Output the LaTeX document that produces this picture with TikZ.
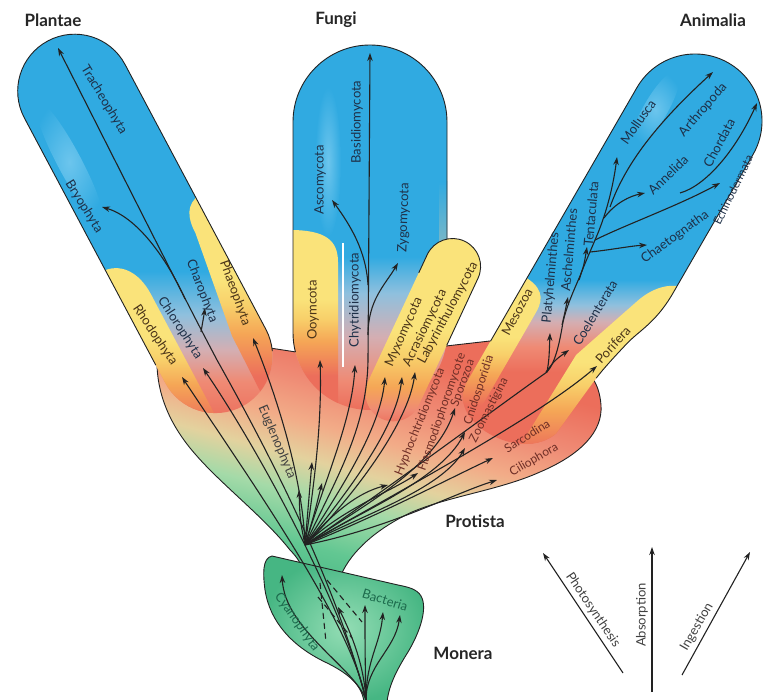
\documentclass[tikz,border=0pt]{standalone}
\usepackage{fontspec}
\setmainfont{Lato}
\usetikzlibrary{arrows.meta}

\definecolor{skyb}{HTML}{30AAE1}
\definecolor{skyl}{HTML}{6CC5ED}
\definecolor{rosy}{HTML}{EC6E5B}
\definecolor{salmon}{HTML}{EF8A74}
\definecolor{pinkgray}{HTML}{D4AEB2}
\definecolor{greyblue}{HTML}{8FC0DE}
\definecolor{sun}{HTML}{FAE37A}
\definecolor{sunlow}{HTML}{F8D06A}
\definecolor{amber}{HTML}{F5A656}
\definecolor{peach}{HTML}{F2AC88}
\definecolor{straw}{HTML}{E3D29E}
\definecolor{mint}{HTML}{A4DAA8}
\definecolor{leaf}{HTML}{62C792}
\definecolor{leafdark}{HTML}{46B683}
\definecolor{leaflight}{HTML}{93DDB4}
\definecolor{beige1}{HTML}{D8C8A6}
\definecolor{ink}{HTML}{222222}
\definecolor{navytxt}{HTML}{1E3048}
\definecolor{browntxt}{HTML}{4A3418}
\definecolor{redtxt}{HTML}{6E2E26}
\definecolor{greentxt}{HTML}{1C6A4C}

% shadings along the lobes (25bp = foot, 75bp = tip)
\pgfdeclareverticalshading{plantshade}{100bp}{color(0bp)=(rosy); color(25bp)=(rosy); color(30bp)=(salmon); color(34bp)=(pinkgray); color(38.5bp)=(greyblue); color(44bp)=(skyb); color(100bp)=(skyb)}
\pgfdeclareverticalshading{fungishade}{100bp}{color(0bp)=(rosy); color(25bp)=(rosy); color(29bp)=(salmon); color(35bp)=(pinkgray); color(41bp)=(greyblue); color(46bp)=(skyb); color(100bp)=(skyb)}
\pgfdeclareverticalshading{lobeshade}{100bp}{color(0bp)=(rosy); color(25bp)=(rosy); color(29bp)=(salmon); color(35bp)=(amber); color(43bp)=(sunlow); color(50bp)=(sun); color(100bp)=(sun)}
\pgfdeclareverticalshading{animshade}{100bp}{color(0bp)=(rosy); color(36bp)=(rosy); color(39bp)=(salmon); color(42bp)=(pinkgray); color(44bp)=(greyblue); color(47bp)=(skyb); color(100bp)=(skyb)}
\pgfdeclareverticalshading{stripshade}{100bp}{color(0bp)=(rosy); color(37bp)=(rosy); color(46bp)=(amber); color(52bp)=(sunlow); color(57bp)=(sun); color(100bp)=(sun)}
\pgfdeclareverticalshading{protshade}{100bp}{color(0bp)=(leafdark); color(25bp)=(leafdark); color(33bp)=(leaf); color(41bp)=(mint); color(47bp)=(straw); color(53bp)=(peach); color(60bp)=(salmon); color(68bp)=(rosy); color(100bp)=(rosy)}

\tikzset{
  rim/.style     = {draw=ink, line width=0.9pt},
  lineage/.style = {draw=ink, line width=1.1pt, -{Stealth[length=8pt,width=5.5pt]}},
  trunk/.style   = {draw=ink, line width=1.1pt},
  guess/.style   = {draw=ink, line width=1.1pt, dash pattern=on 6pt off 4pt},
  strip/.style   = {shading=stripshade},
  sheen/.style   = {inner color=skyl, outer color=skyb},
  taxon/.style   = {font=\fontsize{13}{13}\selectfont, inner sep=0pt},
  onblue/.style  = {taxon, text=navytxt},
  onsun/.style   = {taxon, text=browntxt},
  onred/.style   = {taxon, text=redtxt, font=\fontsize{12}{12}\selectfont},
  ongreen/.style = {taxon, text=greentxt},
  mode/.style    = {taxon, text=black!75},
  kingdom/.style = {font=\bfseries\fontsize{17}{17}\selectfont, text=black!85, inner sep=0pt}
}

\begin{document}
\begin{tikzpicture}[x=1pt,y=-1pt]
\useasboundingbox (0,0) rectangle (765,700);

% Protista
\draw[rim, shading=protshade, shading angle=-15] (157,365) .. controls (158,398) and (172,428) .. (196,455) .. controls (222,485) and (265,518) .. (290,550) .. controls (298,558) and (303,566) .. (306,580) -- (345,590) -- (341,575) .. controls (352,550) and (378,528) .. (412,512) .. controls (450,496) and (500,490) .. (540,472) .. controls (580,455) and (603,432) .. (601,405) .. controls (600,393) and (597,385) .. (593,379) -- (540,340) -- (490,341) -- (446,346) -- (430,370) -- (380,400) -- (360,390) -- (296,352) -- (270,348) -- (230,330) -- cycle;

% Monera
\draw[rim, inner color=leaflight, outer color=leafdark] (272,556) .. controls (262,558) and (263,575) .. (265,590) .. controls (270,622) and (292,646) .. (325,662) .. controls (350,674) and (362,686) .. (364,702) -- (387,702) .. controls (389,684) and (398,668) .. (408,652) .. controls (420,632) and (428,608) .. (421,596) .. controls (417,589) and (408,587) .. (398,585) -- cycle;

% Fungi
\begin{scope}[shift={(370,122)}, y=1pt]
  \shade[shading=fungishade] (-77,-211) -- (-77,0) arc[start angle=180,end angle=0,radius=77] -- (77,-211) arc[start angle=0,end angle=-180,radius=77] -- cycle;
  \begin{scope}
    \clip (-77,-211) -- (-77,0) arc[start angle=180,end angle=0,radius=77] -- (77,-211) arc[start angle=0,end angle=-180,radius=77] -- cycle;
    \shade[sheen] (-42,-40) ellipse[x radius=13, y radius=75];
    \shade[strip] (-80,-108) .. controls (-45,-108) and (-32,-118) .. (-32,-140) -- (-32,-300) -- (-80,-300) -- cycle;
    \shade[top color=skyb, bottom color=beige1] (69,-60) rectangle (80,-200);
  \end{scope}
  \draw[rim] (-74.6,-230) arc[start angle=194.3,end angle=180,radius=77] -- (-77,0) arc[start angle=180,end angle=0,radius=77] -- (77,-117);
\end{scope}

% Plantae
\begin{scope}[shift={(74.7,91.2)}, y=1pt, rotate=28]
  \shade[shading=plantshade] (-57,-300) -- (-57,0) arc[start angle=180,end angle=0,radius=57] -- (57,-300) arc[start angle=0,end angle=-180,radius=57] -- cycle;
  \begin{scope}
    \clip (-57,-300) -- (-57,0) arc[start angle=180,end angle=0,radius=57] -- (57,-300) arc[start angle=0,end angle=-180,radius=57] -- cycle;
    \shade[sheen] (-38,-60) ellipse[x radius=12, y radius=70];
    \shade[strip] (-62,-172) .. controls (-40,-172) and (-28,-190) .. (-28,-215) -- (-28,-400) -- (-62,-400) -- cycle;
    \shade[strip] (62,-150) .. controls (45,-152) and (40,-165) .. (40,-182) -- (24,-290) -- (22,-400) -- (62,-400) -- cycle;
  \end{scope}
  \draw[rim] (-57,-280) -- (-57,0) arc[start angle=180,end angle=0,radius=57] -- (57,-300) arc[start angle=0,end angle=-23,radius=57];
\end{scope}

% slime moulds
\begin{scope}[shift={(452.6,266.5)}, y=1pt, rotate=-25]
  \shade[shading=lobeshade] (-28,-140) -- (-28,0) arc[start angle=180,end angle=0,radius=28] -- (28,-140) arc[start angle=0,end angle=-180,radius=28] -- cycle;
  \draw[rim] (-28,-20) -- (-28,0) arc[start angle=180,end angle=0,radius=28] -- (28,-74);
\end{scope}

% Animalia
\begin{scope}[shift={(695,121)}, y=1pt, rotate=-30]
  \shade[shading=animshade] (-67,-340) -- (-67,0) arc[start angle=180,end angle=0,radius=67] -- (67,-160) .. controls (67,-195) and (56,-210) .. (52,-228) .. controls (48,-245) and (45,-258) .. (43,-272) .. controls (40,-300) and (38,-320) .. (36,-340) .. controls (20,-385) and (-67,-385) .. (-67,-340) -- cycle;
  \begin{scope}
    \clip (-67,-340) -- (-67,0) arc[start angle=180,end angle=0,radius=67] -- (67,-160) .. controls (67,-195) and (56,-210) .. (52,-228) .. controls (48,-245) and (45,-258) .. (43,-272) .. controls (40,-300) and (38,-320) .. (36,-340) .. controls (20,-385) and (-67,-385) .. (-67,-340) -- cycle;
    \shade[sheen] (-40,-10) ellipse[x radius=12, y radius=45];
    \shade[strip] (-72,-220) .. controls (-50,-220) and (-42,-228) .. (-42,-245) -- (-42,-400) -- (-72,-400) -- cycle;
    \shade[strip] (72,-150) .. controls (55,-155) and (45,-170) .. (40,-185) -- (14,-262) -- (10,-400) -- (72,-400) -- cycle;
  \end{scope}
  \draw[rim] (-67,-293) -- (-67,0) arc[start angle=180,end angle=0,radius=67] -- (67,-160) .. controls (67,-195) and (56,-210) .. (52,-228) .. controls (48,-245) and (45,-258) .. (43,-272);
\end{scope}

\draw[white, line width=1.2pt] (343,243) -- (343,367);

% lineages
\coordinate (prot) at (305,545);
\coordinate (mon) at (366,700);

\draw[lineage] (mon) .. controls (340,600) and (290,490) .. (217,360) .. controls (180,290) and (120,170) .. (58,48);
\draw[lineage] (mon) .. controls (345,610) and (262,455) .. (203,368);
\draw[lineage] (mon) .. controls (350,620) and (250,480) .. (182,377);
\draw[lineage] (185,299) .. controls (170,265) and (140,218) .. (102,207);
\draw[lineage] (201,332) .. controls (203,322) .. (205,308);
\draw[lineage] (prot) .. controls (303,480) and (278,400) .. (253,338);
\draw[lineage] (prot) .. controls (300,520) .. (299,490);
\draw[lineage] (prot) .. controls (308,505) .. (312,462);
\draw[lineage] (prot) .. controls (314,515) .. (322,483);

\draw[lineage] (prot) .. controls (315,480) and (322,420) .. (320,360);
\draw[lineage] (prot) .. controls (325,480) and (352,420) .. (355,365);
\draw[lineage] (prot) .. controls (335,480) and (367,430) .. (368,360) -- (370,53);
\draw[lineage] (368,285) .. controls (366,250) and (350,225) .. (332,200);
\draw[lineage] (368,335) .. controls (368,300) and (385,285) .. (398,263);

\draw[lineage] (prot) .. controls (340,490) and (380,430) .. (385,377);
\draw[lineage] (prot) .. controls (345,495) and (396,430) .. (402,377);
\draw[lineage] (prot) .. controls (350,500) and (408,425) .. (415,372);

\draw[lineage] (prot) .. controls (335,510) and (360,492) .. (388,485);
\draw[lineage] (prot) .. controls (340,510) and (390,492) .. (418,473);
\draw[lineage] (prot) .. controls (355,510) and (435,470) .. (455,408);
\draw[lineage] (prot) .. controls (360,512) and (440,480) .. (465,432);
\draw[lineage] (prot) .. controls (362,515) and (440,490) .. (465,448);
\draw[lineage] (prot) .. controls (380,515) and (450,478) .. (493,458);
\draw[lineage] (prot) .. controls (390,528) and (450,495) .. (497,480);
\draw[lineage] (prot) .. controls (420,480) and (540,415) .. (597,366);

\draw[trunk] (prot) .. controls (400,480) and (500,405) .. (547,372) .. controls (556,362) and (560,340) .. (563,322) .. controls (567,305) and (574,290) .. (580,276) .. controls (585,263) and (590,252) .. (595,240);
\draw[lineage] (547,372) .. controls (549,360) .. (550,333);
\draw[lineage] (546,372) .. controls (555,360) .. (569,350);
\draw[lineage] (562,325) .. controls (565,312) .. (568,297);
\draw[lineage] (579,280) .. controls (584,265) .. (587,247);
\draw[lineage] (595,240) .. controls (603,222) and (612,195) .. (617,157);
\draw[lineage] (604,218) .. controls (615,203) and (630,196) .. (645,193);
\draw[lineage] (610,207) .. controls (625,165) and (655,125) .. (713,72);
\draw[lineage] (595,240) .. controls (625,225) and (680,205) .. (720,183);
\draw[lineage] (680,193) .. controls (705,186) and (735,152) .. (757,103);
\draw[lineage] (590,252) .. controls (610,250) and (630,246) .. (647,245);

\draw[lineage] (mon) .. controls (365,660) and (365,640) .. (365,605);
\draw[lineage] (mon) .. controls (366,660) and (380,645) .. (383,612);
\draw[lineage] (mon) .. controls (366,665) and (395,650) .. (400,615);
\draw[lineage] (mon) .. controls (364,665) and (352,635) .. (338,607);
\draw[lineage] (mon) .. controls (355,668) and (285,630) .. (282,575);
\draw[guess] (327,580) -- (362,622);
\draw[guess] (318,597) -- (352,638);
\draw[guess] (320,583) -- (326,642);

% modes of nutrition
\coordinate (ps0) at (623,673); \coordinate (ps1) at (543,553);
\coordinate (ab0) at (652,692); \coordinate (ab1) at (652,547);
\coordinate (in0) at (682,675); \coordinate (in1) at (750,552);
\draw[lineage] (ps0) -- (ps1);
\draw[lineage] (ab0) -- (ab1);
\draw[lineage] (in0) -- (in1);

% labels
\node[onblue, rotate=-59] (tra) at (104,100) {Tracheophyta};
\node[onblue, rotate=-58] (bry) at (84,207) {Bryophyta};
\node[onblue, rotate=-69] (cha) at (202,291) {Charophyta};
\node[onblue, rotate=-57] (chl) at (180,328) {Chlorophyta};
\node[onsun, rotate=-56] (rho) at (155,335) {Rhodophyta};
\node[onsun, rotate=-70] (pha) at (235,293) {Phaeophyta};
\node[taxon, text=black!75, rotate=-67] (eug) at (277,442) {Euglenophyta};

\node[onblue, rotate=90] (bas) at (357,122) {Basidiomycota};
\node[onblue, rotate=90] (asc) at (320,180) {Ascomycota};
\node[onblue, rotate=88] (zyg) at (404,218) {Zygomycota};
\node[onblue, rotate=90] (chy) at (355,300) {Chytridiomycota};
\node[onsun, rotate=90] (ooy) at (313,310) {Ooymcota};

\node[onsun, rotate=66] (myx) at (404,332) {Myxomycota};
\node[onsun, rotate=64] (acr) at (425,328) {Acrasiomycota};
\node[onsun, rotate=62] (lab) at (448,313) {Labyrinthulomycota};

\node[onred, rotate=68] (hyp) at (420,422) {Hyphochtridiomycota};
\node[onred, rotate=71] (fla) at (442,412) {Flasmodiophoromycote};
\node[onred, rotate=70] (spo) at (463,383) {Sporozoa};
\node[onred, rotate=72] (cni) at (479,390) {Cnidosporidia};
\node[onred, rotate=63] (zoo) at (489,410) {Zoomastigina};
\node[onred, rotate=32] (sar) at (527,436) {Sarcodina};
\node[onred, rotate=30] (cil) at (534,460) {Ciliophora};

\node[onsun, rotate=62] (mes) at (517,312) {Mesozoa};
\node[onblue, rotate=85] (pla) at (551,278) {Platyhelminthes};
\node[onblue, rotate=85] (asch) at (569,250) {Aschelminthes};
\node[onblue, rotate=85] (ten) at (591,214) {Tentaculata};
\node[onblue, rotate=59] (coe) at (595,313) {Coelenterata};
\node[onsun, rotate=48] (por) at (613,345) {Porifera};
\node[onblue, rotate=55] (mol) at (638,122) {Mollusca};
\node[onblue, rotate=49] (art) at (703,110) {Arthropoda};
\node[onblue, rotate=44] (ann) at (668,175) {Annelida};
\node[onblue, rotate=62] (cho) at (719,143) {Chordata};
\node[onblue, rotate=64, font=\fontsize{11.5}{11.5}\selectfont] (ech) at (733,190) {Echinodermata};
\node[onblue, rotate=36] (chae) at (675,237) {Chaetognatha};

\node[ongreen, rotate=-55] (cya) at (297,622) {Cyanophyta};
\node[ongreen, rotate=-17] (bac) at (385,600) {Bacteria};

\node[mode, rotate=-56] (pho) at (593,610) {Photosynthesis};
\node[mode, rotate=90] (abs) at (642,615) {Absorption};
\node[mode, rotate=60] (ing) at (697,627) {Ingestion};

\node[kingdom] (plantae) at (53,20) {Plantae};
\node[kingdom] (fungi) at (336,20) {Fungi};
\node[kingdom] (animalia) at (713,20) {Animalia};
\node[kingdom] (protista) at (475,521) {Protista};
\node[kingdom] (monera) at (463,653) {Monera};
\end{tikzpicture}
\end{document}
